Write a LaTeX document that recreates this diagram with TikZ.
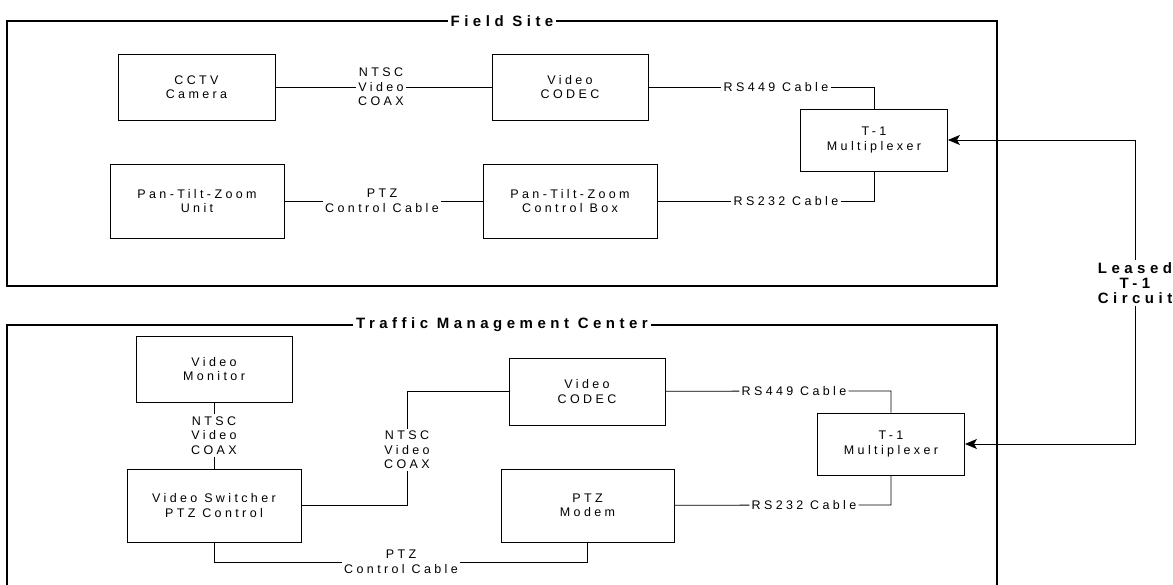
\documentclass[tikz,border=0pt]{standalone}
\usepackage{fontspec}
\setmainfont{Liberation Sans}
\newfontfamily\trackfont[LetterSpace=27]{Liberation Sans}
\newfontfamily\headfont[LetterSpace=30]{Liberation Sans}
\usetikzlibrary{arrows.meta}

\begin{document}
\begin{tikzpicture}[x=1pt,y=-1pt,
    unit/.style={draw,line width=0.9pt,inner sep=0pt,align=center,
      font=\trackfont\fontsize{12.5}{14.5}\selectfont},
    cable/.style={inner sep=2pt,align=center,
      font=\trackfont\fontsize{12.5}{14.5}\selectfont},
    link/.style={line width=0.8pt},
    frame/.style={line width=1.2pt},
    title/.style={fill=white,inner sep=3pt,
      font=\headfont\bfseries\fontsize{15}{15}\selectfont},
    arrow/.style={link,-{Stealth[length=12pt,width=10pt,inset=3pt]}}
  ]
    \useasboundingbox (0,0) rectangle (1173,585);

    % field site
    \draw[frame] (7,21) rectangle (997,286);
    \node[title] (fieldtitle) at (502,21) {Field Site};
    \node[unit,minimum width=157pt,minimum height=66pt] (camera) at (196.5,87) {CCTV\\Camera};
    \node[unit,minimum width=156pt,minimum height=66pt] (codecA) at (570,87) {Video\\CODEC};
    \node[unit,minimum width=174pt,minimum height=74pt] (ptzunit) at (197,201) {Pan-Tilt-Zoom\\Unit};
    \node[unit,minimum width=174pt,minimum height=74pt] (ptzbox) at (570,201) {Pan-Tilt-Zoom\\Control Box};
    \node[unit,minimum width=147pt,minimum height=62pt] (muxA) at (874,140) {T-1\\Multiplexer};
    \node[cable] (coaxA) at (381,87) {NTSC\\Video\\COAX};
    \node[cable] (ptzcableA) at (382,201) {PTZ\\Control Cable};
    \node[cable] (rsA) at (776,87) {RS449 Cable};
    \node[cable] (rsB) at (786,201) {RS232 Cable};
    \draw[link] (camera) -- (coaxA) -- (codecA);
    \draw[link] (ptzunit) -- (ptzcableA) -- (ptzbox);
    \draw[link] (codecA) -- (rsA) -| (muxA);
    \draw[link] (ptzbox) -- (rsB) -| (muxA);

    % leased circuit
    \node[title,fill=none,inner sep=2pt,align=center,font=\headfont\bfseries\fontsize{15}{15}\selectfont]
      (leased) at (1135,283) {Leased\\T-1\\Circuit};

    % traffic management center
    \draw[frame] (7,600) |- (997,325) -- (997,600);
    \node[title] (tmctitle) at (502,325) {Traffic Management Center};
    \node[unit,minimum width=156pt,minimum height=66pt] (monitor) at (214,369) {Video\\Monitor};
    \node[unit,minimum width=174pt,minimum height=73pt] (switcher) at (214,505.5) {Video Switcher\\PTZ Control};
    \node[unit,minimum width=156pt,minimum height=67pt] (codecB) at (587,391.5) {Video\\CODEC};
    \node[unit,minimum width=173pt,minimum height=73pt] (modem) at (587.5,505.5) {PTZ\\Modem};
    \node[unit,minimum width=147pt,minimum height=62pt] (muxB) at (891,444) {T-1\\Multiplexer};
    \node[cable] (coaxB) at (214,435.5) {NTSC\\Video\\COAX};
    \node[cable] (coaxC) at (407,450) {NTSC\\Video\\COAX};
    \node[cable] (ptzcableB) at (401,562) {PTZ\\Control Cable};
    \node[cable] (rsC) at (794,391) {RS449 Cable};
    \node[cable] (rsD) at (804,505) {RS232 Cable};
    \draw[link] (monitor) -- (coaxB) -- (switcher);
    \draw[link] (codecB) -| (coaxC);
    \draw[link] (coaxC) |- (switcher);
    \draw[link] (switcher) |- (ptzcableB);
    \draw[link] (ptzcableB) -| (modem);
    \draw[link] (codecB) -- (rsC) -| (muxB);
    \draw[link] (modem) -- (rsD) -| (muxB);

    \draw[arrow] (leased) |- (muxA);
    \draw[arrow] (leased) |- (muxB);
  \end{tikzpicture}
\end{document}
